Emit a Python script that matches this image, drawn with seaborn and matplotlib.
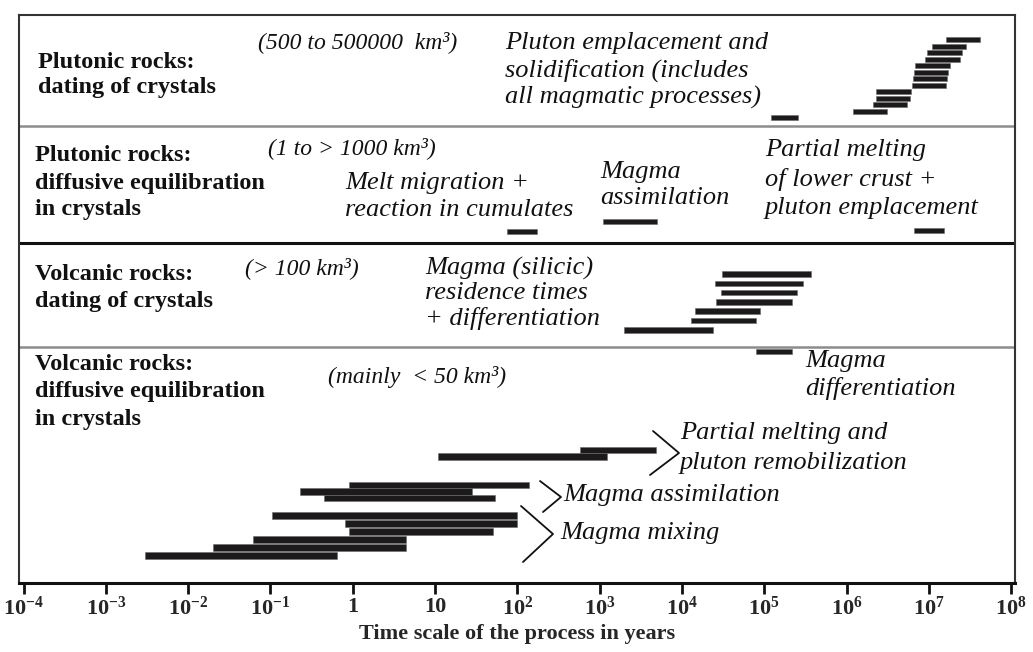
import numpy as np
import matplotlib
matplotlib.use("Agg")
import matplotlib.pyplot as plt
from matplotlib.lines import Line2D
import seaborn as sns

W, H = 1033, 652

# eixo x (anos)
tick_values = [1e-4, 1e-3, 1e-2, 1e-1, 1, 10, 1e2, 1e3, 1e4, 1e5, 1e6, 1e7, 1e8]
tick_labels = [r'$\mathbf{10^{-4}}$', r'$\mathbf{10^{-3}}$', r'$\mathbf{10^{-2}}$', r'$\mathbf{10^{-1}}$',
               '1', '10', r'$\mathbf{10^{2}}$', r'$\mathbf{10^{3}}$', r'$\mathbf{10^{4}}$',
               r'$\mathbf{10^{5}}$', r'$\mathbf{10^{6}}$', r'$\mathbf{10^{7}}$', r'$\mathbf{10^{8}}$']

# plutonic rocks: dating of crystals
plut_dating_start = [1.6e7, 1.1e7, 9.5e6, 9.0e6, 6.8e6, 6.6e6, 6.5e6, 6.3e6, 2.3e6, 2.3e6, 2.1e6, 1.2e6, 1.2e5]
plut_dating_end = [4.2e7, 2.8e7, 2.5e7, 2.4e7, 1.8e7, 1.7e7, 1.66e7, 1.6e7, 6.0e6, 5.9e6, 5.5e6, 3.1e6, 2.6e5]

# plutonic rocks: diffusive equilibration (melt migration, assimilation, partial melting)
plut_diff_start = [75, 1100, 6.6e6]
plut_diff_end = [175, 5000, 1.55e7]

# volcanic rocks: dating of crystals
volc_dating_start = [3.1e4, 2.5e4, 3.0e4, 2.6e4, 1.45e4, 1.3e4, 2.0e3]
volc_dating_end = [3.7e5, 3.0e5, 2.5e5, 2.2e5, 9.0e4, 8.0e4, 2.4e4]

# volcanic rocks: diffusive equilibration
differentiation_start = [8.0e4]
differentiation_end = [2.2e5]
partial_melting_start = [575, 11]
partial_melting_end = [4800, 1230]
assimilation_start = [0.9, 0.23, 0.45]
assimilation_end = [140, 28, 54]
mixing_start = [0.105, 0.8, 0.9, 0.062, 0.02, 0.003]
mixing_end = [100, 100, 51, 4.4, 4.4, 0.65]

BAR = '#1c1a1a'
SERIF = ['Liberation Serif', 'DejaVu Serif']


def fx(px):
    return px / W


def fy(py):
    return 1 - py / H


def desenhar_barras(ax, inicio, fim, y0, passo, altura):
    s = np.array(inicio, dtype=float)
    e = np.array(fim, dtype=float)
    y = y0 + passo * np.arange(len(s))
    ax.barh(y, e - s, left=s, height=altura, color=BAR, edgecolor='#6a6a6a', linewidth=0.4)


def texto(fig, x, y, linhas, dy, size, bold=False, italic=False):
    for i, linha in enumerate(linhas):
        fig.text(fx(x), fy(y + i * dy), linha, fontsize=size,
                 fontweight='bold' if bold else 'normal',
                 fontstyle='italic' if italic else 'normal',
                 ha='left', va='center', color='#111111')


def colchete(fig, xs, ys):
    fig.add_artist(Line2D([fx(x) for x in xs], [fy(y) for y in ys], color='#111111', lw=1.3))


sns.set_theme(style="white")
plt.rcParams['font.family'] = SERIF
plt.rcParams['mathtext.fontset'] = 'custom'
plt.rcParams['mathtext.rm'] = 'Liberation Serif'
plt.rcParams['mathtext.bf'] = 'Liberation Serif:bold'
plt.rcParams['mathtext.it'] = 'Liberation Serif:italic'

fig = plt.figure(figsize=(W / 100, H / 100), dpi=100)
left, right, top, bottom = 19, 1015, 15, 583
ax = fig.add_axes([fx(left), fy(bottom), (right - left) / W, (bottom - top) / H])
ax.set_xscale('log')
ax.set_xlim(10 ** -4.055, 10 ** 8.047)
ax.set_ylim(bottom, top)

desenhar_barras(ax, plut_dating_start, plut_dating_end, 40, 6.5, 5)
for s, e, y in zip(plut_diff_start, plut_diff_end, [232, 222, 231]):
    desenhar_barras(ax, [s], [e], y, 0, 5)
desenhar_barras(ax, volc_dating_start, volc_dating_end, 274, 9.3, 5.5)
desenhar_barras(ax, differentiation_start, differentiation_end, 352, 0, 5)
desenhar_barras(ax, partial_melting_start, partial_melting_end, 450, 6.5, 6.5)
desenhar_barras(ax, assimilation_start, assimilation_end, 485, 6.5, 6.5)
desenhar_barras(ax, mixing_start, mixing_end, 516, 8.0, 7)

ax.axhline(126, color='#8c8c8c', lw=1.8)
ax.axhline(243, color='#111111', lw=2.2)
ax.axhline(347, color='#8c8c8c', lw=1.8)

for lado in ['top', 'left', 'right']:
    ax.spines[lado].set_color('#333333')
    ax.spines[lado].set_linewidth(1.5)
ax.spines['bottom'].set_color('#111111')
ax.spines['bottom'].set_linewidth(2.2)

ax.set_xticks(tick_values)
ax.set_xticklabels(tick_labels)
ax.xaxis.set_minor_locator(matplotlib.ticker.NullLocator())
ax.tick_params(axis='x', direction='out', length=8, width=2, color='#111111', pad=2,
               labelsize=16, bottom=True)
for t in ax.get_xticklabels():
    t.set_fontweight('bold')
ax.set_yticks([])
ax.set_xlabel('Time scale of the process in years', fontsize=16, fontweight='bold', labelpad=3)

# rotulos das secoes
BS = 17.5
IS = 19
PS = 17
texto(fig, 38, 63, ['Plutonic rocks:', 'dating of crystals'], 24, BS, bold=True)
texto(fig, 35, 156, ['Plutonic rocks:', 'diffusive equilibration', 'in crystals'], 27, BS, bold=True)
texto(fig, 35, 275, ['Volcanic rocks:', 'dating of crystals'], 26, BS, bold=True)
texto(fig, 35, 364, ['Volcanic rocks:', 'diffusive equilibration', 'in crystals'], 28, BS, bold=True)

texto(fig, 258, 42, ['(500 to 500000  km³)'], 0, PS, italic=True)
texto(fig, 505, 43, ['Pluton emplacement and', 'solidification (includes', 'all magmatic processes)'], 27, IS, italic=True)
texto(fig, 268, 148, ['(1 to > 1000 km³)'], 0, PS, italic=True)
texto(fig, 345, 183, ['Melt migration +', 'reaction in cumulates'], 27, IS, italic=True)
texto(fig, 600, 172, ['Magma', 'assimilation'], 26, IS, italic=True)
texto(fig, 765, 150, ['Partial melting', 'of lower crust +', 'pluton emplacement'], 29, IS, italic=True)
texto(fig, 245, 268, ['(> 100 km³)'], 0, PS, italic=True)
texto(fig, 425, 268, ['Magma (silicic)', 'residence times', '+ differentiation'], 25, IS, italic=True)
texto(fig, 328, 377, ['(mainly  < 50 km³)'], 0, PS, italic=True)
texto(fig, 805, 361, ['Magma', 'differentiation'], 27, IS, italic=True)
texto(fig, 680, 433, ['Partial melting and', 'pluton remobilization'], 30, IS, italic=True)
texto(fig, 563, 495, ['Magma assimilation'], 0, IS, italic=True)
texto(fig, 560, 533, ['Magma mixing'], 0, IS, italic=True)

colchete(fig, [653, 679, 650], [431, 453, 475])
colchete(fig, [540, 561, 543], [481, 497, 512])
colchete(fig, [521, 553, 523], [506, 534, 562])

fig.savefig('out.png', dpi=100)
